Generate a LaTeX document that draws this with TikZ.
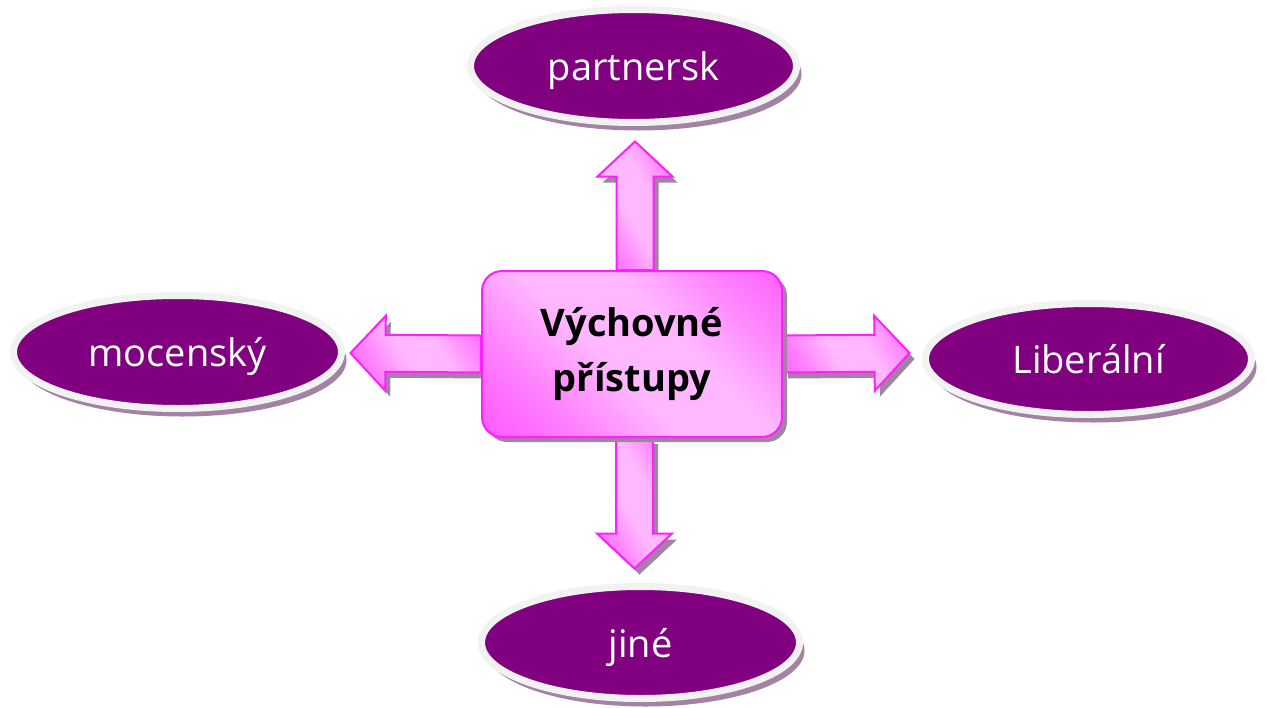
\documentclass[tikz,border=0pt]{standalone}
\usepackage{fontspec}
\setmainfont{Open Sans}
\usetikzlibrary{shapes.geometric,shadows,calc,backgrounds}
\definecolor{purp}{HTML}{800080}
\definecolor{ringc}{HTML}{F2F2F2}
\definecolor{shad}{HTML}{A383A3}
\definecolor{pdark}{HTML}{FF33FF}
\definecolor{pmid}{HTML}{FF80FF}
\definecolor{plight}{HTML}{FFB8FF}
\definecolor{pborder}{HTML}{FF1FFF}
\pgfdeclarehorizontalshading{pinkband}{100bp}{color(0bp)=(pdark); color(30bp)=(pmid); color(45bp)=(plight); color(60bp)=(plight); color(75bp)=(pmid); color(100bp)=(pdark)}
\newcommand\drawblockarrow[2]{%
  \coordinate (ba-h) at ($(#2)!35pt!(#1)$);
  \draw[barrow] ($(#1)!18.5pt!90:(#2)$) -- ($(ba-h)!18.5pt!90:(#2)$) -- ($(ba-h)!37.5pt!90:(#2)$) -- (#2)
    -- ($(ba-h)!37.5pt!-90:(#2)$) -- ($(ba-h)!18.5pt!-90:(#2)$) -- ($(#1)!18.5pt!-90:(#2)$) -- cycle;}
\tikzset{
  oval/.style={ellipse, inner sep=0pt, draw=ringc, line width=7pt, fill=purp, text=white,
    font=\fontsize{38}{42}\selectfont, text height=29pt, text depth=0pt,
    drop shadow={shadow xshift=5pt, shadow yshift=-8pt, fill=shad, opacity=1}},
  centerbox/.style={rectangle, rounded corners=20pt, minimum width=300pt, minimum height=166pt,
    draw=pborder, line width=2pt, shading=pinkband, shading angle=45, align=center,
    font=\bfseries\fontsize{38}{55}\selectfont,
    drop shadow={shadow xshift=5pt, shadow yshift=-5pt, fill=shad, opacity=1}},
  barrow/.style={draw=pborder, line width=2pt, line join=miter, shading=pinkband, shading angle=30,
    drop shadow={shadow xshift=5pt, shadow yshift=-6pt, fill=shad, opacity=1}}
}
\begin{document}
\begin{tikzpicture}[x=1pt,y=-1pt]
\useasboundingbox (0,0) rectangle (1266,707);
\node[oval, minimum width=326pt, minimum height=113pt] (t) at (633.5,66) {partnersk};
\node[oval, minimum width=328pt, minimum height=113pt] (l) at (177.5,352) {mocenský};
\node[oval, minimum width=326pt, minimum height=111pt] (r) at (1088.5,359) {Liberální};
\node[oval, minimum width=318pt, minimum height=112pt] (b) at (640.5,642.5) {jiné};
\node[centerbox] (c) at (632,354) {Výchovné\\přístupy};
\coordinate (us) at ($(c.north)+(3,0)$);
\coordinate (ue) at ($(t.south)+(1.5,15.5)$);
\coordinate (ls) at (c.west);
\coordinate (le) at ($(l.east)+(5.5,1)$);
\coordinate (rs) at (c.east);
\coordinate (re) at ($(r.west)+(-12.5,-6)$);
\coordinate (ds) at ($(c.south)+(2.5,0)$);
\coordinate (de) at ($(b.north)+(-6,-14.5)$);
\begin{scope}[on background layer]
\fill[white] (0,0) rectangle (1266,707);
\drawblockarrow{us}{ue}
\drawblockarrow{ls}{le}
\drawblockarrow{rs}{re}
\drawblockarrow{ds}{de}
\end{scope}
\end{tikzpicture}
\end{document}
